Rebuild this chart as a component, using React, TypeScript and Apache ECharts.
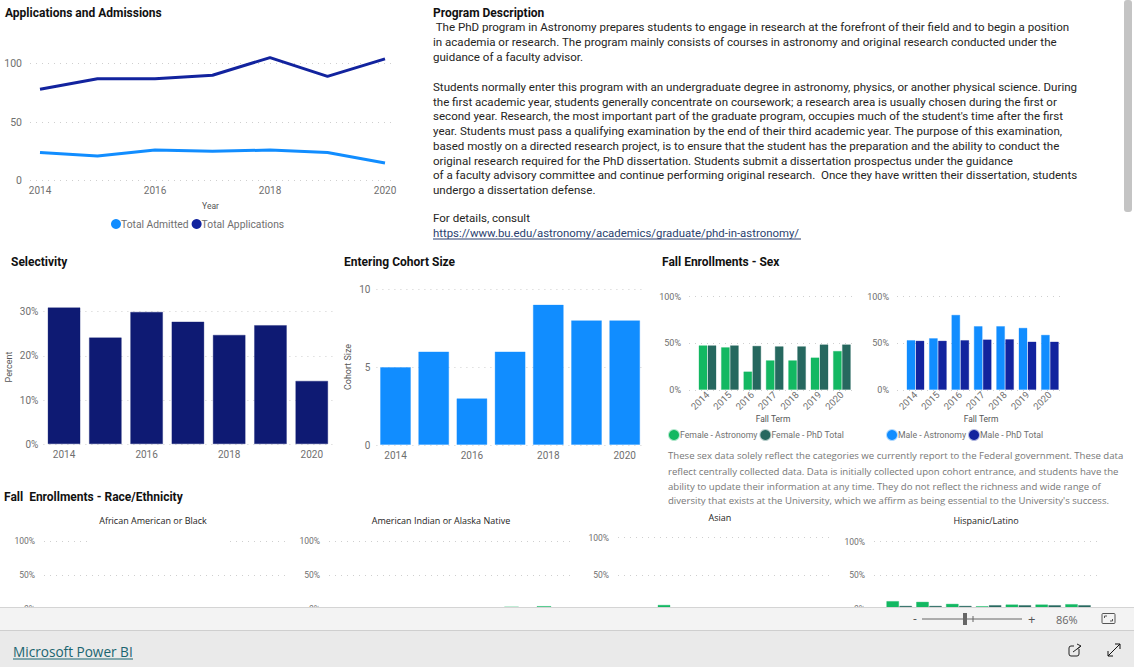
import React, { useEffect, useRef } from "react";
import * as echarts from "echarts";

const years = [2014, 2015, 2016, 2017, 2018, 2019, 2020];
const yearLabels = ["2014", "2015", "2016", "2017", "2018", "2019", "2020"];
const totalAdmitted = [24, 21, 26, 25, 26, 24, 15];
const totalApplications = [78, 87, 87, 90, 105, 89, 104];
const selectivity = [31, 24.2, 30, 27.8, 24.8, 27, 14.4];
const cohortSize = [5, 6, 3, 6, 9, 8, 8];
const femaleAstronomy = [48, 46, 20, 32, 32, 35, 42];
const femalePhd = [48, 48, 47.5, 47, 47, 49, 49];
const maleAstronomy = [53.6, 55.7, 80.7, 68.6, 68.6, 66.8, 59.3];
const malePhd = [53, 53, 53.6, 54.3, 54.6, 52, 52];
const indianAstronomy: [number, number][] = [[2019, 3.8], [2020, 4.5]];
const asianAstronomy: [number, number][] = [[2015, 11]];
const hispanicAstronomy = [12, 11, 8, 4.5, 7, 7, 7.5];
const hispanicPhd = [5, 5, 5, 6, 6, 6, 6];

const programLines: [string, number][] = [
  [" The PhD program in Astronomy prepares students to engage in research at the forefront of their field and to begin a position", 27],
  ["in academia or research. The program mainly consists of courses in astronomy and original research conducted under the", 42],
  ["guidance of a faculty advisor.", 57],
  ["Students normally enter this program with an undergraduate degree in astronomy, physics, or another physical science. During", 87],
  ["the first academic year, students generally concentrate on coursework; a research area is usually chosen during the first or", 101.7],
  ["second year. Research, the most important part of the graduate program, occupies much of the student's time after the first", 116.4],
  ["year. Students must pass a qualifying examination by the end of their third academic year. The purpose of this examination,", 131],
  ["based mostly on a directed research project, is to ensure that the student has the preparation and the ability to conduct the", 145.8],
  ["original research required for the PhD dissertation. Students submit a dissertation prospectus under the guidance", 160.5],
  ["of a faculty advisory committee and continue performing original research.  Once they have written their dissertation, students", 175],
  ["undergo a dissertation defense.", 189.7],
  ["For details, consult", 218],
];
const sexNoteLines: [string, number][] = [
  ["These sex data solely reflect the categories we currently report to the Federal government. These data", 455.7],
  ["reflect centrally collected data. Data is initially collected upon cohort entrance, and students have the", 471],
  ["ability to update their information at any time. They do not reflect the richness and wide range of", 486],
  ["diversity that exists at the University, which we affirm as being essential to the University's success.", 500.7],
];
const titles: [string, number, number][] = [
  ["Applications and Admissions", 5, 12.5],
  ["Program Description", 433, 12.5],
  ["Selectivity", 11, 261.5],
  ["Entering Cohort Size", 344, 261.5],
  ["Fall Enrollments - Sex", 662, 261.5],
  ["Fall  Enrollments - Race/Ethnicity", 4, 496.5],
];
const raceTitles: [string, number, number][] = [
  ["African American or Black", 153, 520],
  ["American Indian or Alaska Native", 441, 520],
  ["Asian", 720, 517],
  ["Hispanic/Latino", 986, 520],
];

const C = {
  admit: "#118DFF",
  apps: "#12239E",
  navy: "#0E1A73",
  green: "#13B862",
  dark: "#26685F",
  axis: "#6f6f6f",
};
const UI = "'Open Sans', 'Noto Sans', sans-serif";
const BODY = "Roboto, sans-serif";
const AX = "Roboto, sans-serif";

const grid = { type: [1, 5], color: "#cfcfcf", width: 1 };
const yAxis = (i: number, max: number, interval: number, fmt: string, size = 10, margin = 8) => ({
  type: "value", gridIndex: i, min: 0, max, interval,
  axisLine: { show: false }, axisTick: { show: false },
  splitLine: { show: true, lineStyle: grid },
  axisLabel: { color: C.axis, fontSize: size, fontFamily: AX, margin, formatter: fmt },
});
const catAxis = (i: number) => ({
  type: "category", gridIndex: i, data: yearLabels,
  axisLine: { show: false }, axisTick: { show: false },
  axisLabel: { color: C.axis, fontSize: 10, fontFamily: AX, interval: 1, margin: 5 },
});
const valX = (i: number, min: number, max: number, labels: number[], rotate = 0, size = 10, name = "", margin = 5, nameGap = 24) => ({
  type: "value", gridIndex: i, min, max,
  axisLine: { show: false }, axisTick: { show: false }, splitLine: { show: false },
  axisLabel: {
    color: C.axis, fontSize: size, fontFamily: AX, margin, rotate, customValues: labels,
    formatter: (v: number) => String(v),
  },
  name, nameLocation: "middle", nameGap,
  nameTextStyle: { color: "#555", fontSize: 8.5, fontFamily: AX },
});
const pairs = (a: number[]) => a.map((v, k) => [years[k], v]);
const bar = (name: string, i: number, data: any[], color: string, w: number, z = 2) => ({
  type: "bar", name, xAxisIndex: i, yAxisIndex: i, data, barWidth: w, barGap: "0%", clip: false, z,
  itemStyle: { color, borderColor: color + "55", borderWidth: 1 },
});

// x position of year y in a grid where 2014 sits at x0 and one year is step px
const xRange = (left: number, right: number, x0: number, step: number): [number, number] => [
  2014 + (left - x0) / step, 2014 + (right - x0) / step,
];

const rects = (x: number, y: number, w: number, h: number, fill: string, z = 100, r = 0) => ({
  type: "rect", shape: { x, y, width: w, height: h, r }, style: { fill }, z, silent: true,
});
const txt = (text: string, x: number, y: number, fontSize: number, fill: string, extra: any = {}, z = 50, fontFamily = UI) => ({
  type: "text", x, y, z, silent: true,
  style: { text, fontSize, fill, fontFamily, verticalAlign: "middle", ...extra },
});
const gline = (x1: number, y1: number, x2: number, y2: number, stroke: string, w = 1, z = 101) => ({
  type: "line", z, silent: true, shape: { x1, y1, x2, y2 }, style: { stroke, lineWidth: w },
});
const vtxt = (text: string, x: number, y: number) => ({
  type: "text", x, y, z: 50, silent: true, rotation: Math.PI / 2,
  style: { text, fontSize: 9, fill: "#555555", fontFamily: AX, align: "center", verticalAlign: "middle" },
});

const legend = (names: string[], left: number, top: number, gap: number, size = 8.7, pad = -4) => ({
  show: true, data: names, left, top, itemWidth: 10, itemHeight: 10, itemGap: gap, icon: "circle",
  padding: 0, textStyle: { color: C.axis, fontSize: size, fontFamily: AX, padding: [0, 0, 0, pad] },
});

export default function App() {
  const ref = useRef<HTMLDivElement>(null);
  useEffect(() => {
    document.body.style.margin = "0";
    const chart = echarts.init(ref.current!, undefined, { renderer: "svg" });
    const xLine = xRange(30, 391, 40, 57.5);
    const xF = xRange(689, 857, 707.5, 22.4);
    const xM = xRange(897, 1065, 915.5, 22.4);
    const xIndian = xRange(329, 575, 349, 32.5);
    const xAsian = xRange(618, 833, 634, 30);
    const xHisp = xRange(874, 1100, 899.2, 29.8);
    const grids = [
      { left: 30, top: 63.5, width: 361, height: 117 },
      { left: 43.4, top: 311.7, width: 289, height: 132.6 },
      { left: 376.4, top: 289, width: 267.4, height: 156 },
      { left: 689, top: 296.7, width: 168, height: 93.3 },
      { left: 897, top: 296.7, width: 168, height: 93.3 },
      { left: 44, top: 541, width: 246, height: 68 },
      { left: 329, top: 541, width: 246, height: 68 },
      { left: 618, top: 537.7, width: 215, height: 75.3 },
      { left: 874, top: 541.7, width: 226, height: 67.3 },
    ];
    chart.setOption({
      animation: false,
      backgroundColor: "#ffffff",
      grid: grids,
      tooltip: { show: false },
      legend: [
        legend(["Total Admitted", "Total Applications"], 111, 219, 3, 10.3, -5),
        legend(["Female - Astronomy", "Female - PhD Total"], 668, 429, 2),
        legend(["Male - Astronomy", "Male - PhD Total"], 886, 429, 2),
      ],
      xAxis: [
        valX(0, xLine[0], xLine[1], [2014, 2016, 2018, 2020], 0, 10, "Year", 5, 21),
        catAxis(1),
        catAxis(2),
        valX(3, xF[0], xF[1], years, 45, 9.5, "Fall Term", 3),
        valX(4, xM[0], xM[1], years, 45, 9.5, "Fall Term", 3),
        valX(5, 2013, 2021, [], 0),
        valX(6, xIndian[0], xIndian[1], [], 0),
        valX(7, xAsian[0], xAsian[1], [], 0),
        valX(8, xHisp[0], xHisp[1], [], 0),
      ],
      yAxis: [
        yAxis(0, 100, 50, "{value}", 10.5, 8),
        yAxis(1, 30, 10, "{value}%", 10, 5),
        yAxis(2, 10, 5, "{value}", 10, 6),
        yAxis(3, 100, 50, "{value}%", 9, 8),
        yAxis(4, 100, 50, "{value}%", 9, 8),
        yAxis(5, 100, 50, "{value}%", 8.5, 9),
        yAxis(6, 100, 50, "{value}%", 8.5, 9),
        yAxis(7, 100, 50, "{value}%", 8.5, 9),
        yAxis(8, 100, 50, "{value}%", 8.5, 9),
      ],
      series: [
        { type: "line", name: "Total Admitted", xAxisIndex: 0, yAxisIndex: 0, data: pairs(totalAdmitted), showSymbol: false, clip: false, lineStyle: { color: C.admit, width: 3 }, itemStyle: { color: C.admit } },
        { type: "line", name: "Total Applications", xAxisIndex: 0, yAxisIndex: 0, data: pairs(totalApplications), showSymbol: false, clip: false, lineStyle: { color: C.apps, width: 3 }, itemStyle: { color: C.apps } },
        bar("Selectivity", 1, selectivity, C.navy, 33),
        bar("Cohort", 2, cohortSize, C.admit, 31),
        bar("Female - Astronomy", 3, pairs(femaleAstronomy), C.green, 9),
        bar("Female - PhD Total", 3, pairs(femalePhd), C.dark, 9),
        bar("Male - Astronomy", 4, pairs(maleAstronomy), C.admit, 9),
        bar("Male - PhD Total", 4, pairs(malePhd), C.apps, 9),
        bar("Indian", 6, indianAstronomy, C.green, 15),
        bar("Asian", 7, asianAstronomy, C.green, 13),
        bar("Hispanic - Astronomy", 8, pairs(hispanicAstronomy), C.green, 13),
        bar("Hispanic - PhD Total", 8, pairs(hispanicPhd), C.dark, 13),
      ],
      graphic: {
        elements: [
          ...titles.map(([t, x, y]) => txt(t, x, y, 12, "#111111", { fontWeight: 700 }, 50, BODY)),
          ...programLines.map(([t, y]) => txt(t, 433, y, 11.55, "#252423", {}, 50, BODY)),
          txt("https://www.bu.edu/astronomy/academics/graduate/phd-in-astronomy/", 433, 233, 11.4, "#2a3f6f", {}, 50, BODY),
          gline(433, 239, 801, 239, "#2a3f6f", 1, 51),
          vtxt("Percent", 9, 367),
          vtxt("Cohort Size", 348, 367),
          ...sexNoteLines.map(([t, y]) => txt(t, 668, y, 9.6, "#777777")),
          rects(660, 505.5, 440, 6, "#ffffff", 60),
          rects(92, 538, 134, 6, "#ffffff", 20),
          ...raceTitles.map(([t, x, y]) => txt(t, x, y, 9, "#252423", { align: "center" })),
          rects(0, 607, 1134, 60, "#f3f3f3"),
          rects(0, 607, 1134, 1, "#d4d4d4", 101),
          rects(0, 630, 1134, 37, "#eaeaea", 101),
          rects(0, 630, 1134, 1, "#cfcfcf", 102),
          txt("Microsoft Power BI", 13, 651, 13.6, "#1a6570", {}, 103),
          gline(13, 659, 133, 659, "#1a6570", 1, 103),
          txt("-", 913, 618.5, 12, "#555555", {}, 103),
          gline(922, 619, 1022, 619, "#666666", 1),
          rects(963, 613, 4, 12, "#666666", 102),
          gline(973, 616, 973, 622, "#666666", 1),
          txt("+", 1028, 618.5, 13, "#555555", {}, 103),
          txt("86%", 1056, 619, 11, "#666666", {}, 103),
          { type: "rect", z: 103, silent: true, shape: { x: 1102, y: 613.5, width: 13, height: 10, r: 1 }, style: { fill: "none", stroke: "#555555", lineWidth: 1 } },
          gline(1104.5, 616, 1107, 616, "#555555", 1, 104),
          gline(1104.5, 616, 1104.5, 618, "#555555", 1, 104),
          gline(1110, 621, 1112.5, 621, "#555555", 1, 104),
          gline(1112.5, 619, 1112.5, 621, "#555555", 1, 104),
          { type: "rect", z: 103, silent: true, shape: { x: 1069, y: 646, width: 10, height: 10, r: 2 }, style: { fill: "none", stroke: "#222222", lineWidth: 1 } },
          rects(1074, 644, 6, 5, "#eaeaea", 104),
          gline(1073, 652, 1081, 646, "#222222", 1, 105),
          gline(1077, 644, 1081, 646, "#222222", 1, 105),
          gline(1077, 649, 1081, 646, "#222222", 1, 105),
          gline(1108, 656, 1120, 644, "#111111", 1, 104),
          gline(1115, 644, 1120, 644, "#111111", 1, 104),
          gline(1120, 644, 1120, 649, "#111111", 1, 104),
          gline(1108, 651, 1108, 656, "#111111", 1, 104),
          gline(1108, 656, 1113, 656, "#111111", 1, 104),
          rects(1124, 0, 8, 212, "#c4c4c4", 91, 3),
        ],
      },
    });
    return () => chart.dispose();
  }, []);
  return <div ref={ref} style={{ width: 1134, height: 667 }} />;
}
